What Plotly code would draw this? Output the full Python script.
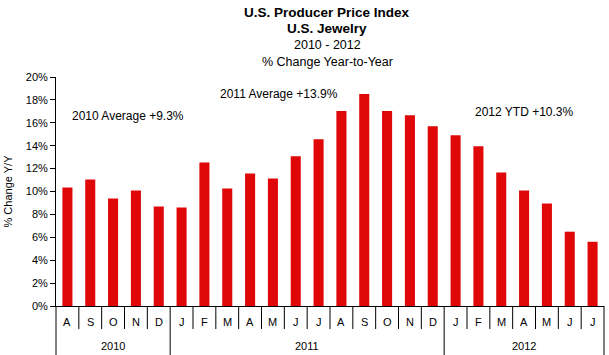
import plotly.graph_objects as go

months = ["A", "S", "O", "N", "D",
          "J", "F", "M", "A", "M", "J", "J", "A", "S", "O", "N", "D",
          "J", "F", "M", "A", "M", "J", "J"]
years = ["2010"] * 5 + ["2011"] * 12 + ["2012"] * 7
values = [10.35, 11.05, 9.39, 10.09, 8.68,
          8.60, 12.54, 10.26, 11.58, 11.14, 13.07, 14.56, 17.02, 18.51, 17.02, 16.67, 15.70,
          14.91, 13.95, 11.67, 10.09, 8.95, 6.49, 5.61]
avg_labels = ["2010 Average +9.3%", "2011 Average +13.9%", "2012 YTD +10.3%"]
avg_pos = [(70, 116), (218, 94), (473, 112)]  # label pixel anchors (left, middle)

W, H = 609, 355
L, R, T, B = 56, 5, 77, 49
PW, PH = W - L - R, H - T - B
N = len(values)
FONT = "Liberation Sans, Arial, sans-serif"

fig = go.Figure()
fig.add_trace(go.Bar(x=list(range(N)), y=values, width=0.44,
                     marker=dict(color="#DF0707", line=dict(width=0)),
                     hoverinfo="y"))

shapes = []
annotations = []
# month separators
for i in range(N + 1):
    xp = i / N
    yearline = i == 0 or i == N or years[i] != years[i - 1]
    shapes.append(dict(type="line", xref="paper", yref="paper",
                       ysizemode="pixel", yanchor=0,
                       x0=xp, x1=xp, y0=0, y1=-(B if yearline else 23),
                       line=dict(color="black", width=1)))
# month labels
for i, m in enumerate(months):
    annotations.append(dict(x=(i + 0.5) / N, y=0, xref="paper", yref="paper",
                            text=m, showarrow=False, yshift=-16,
                            xanchor="center", yanchor="middle",
                            font=dict(family=FONT, size=11, color="black")))
# year labels
start = 0
for i in range(1, N + 1):
    if i == N or years[i] != years[start]:
        annotations.append(dict(x=(start + i) / 2 / N, y=0, xref="paper", yref="paper",
                                text=years[start], showarrow=False, yshift=-40,
                                xanchor="center", yanchor="middle",
                                font=dict(family=FONT, size=11, color="black")))
        start = i
# average labels
for txt, (px, py) in zip(avg_labels, avg_pos):
    annotations.append(dict(x=(px - L) / PW, y=(H - B - py) / PH, xref="paper", yref="paper",
                            text=txt, showarrow=False, xanchor="left", yanchor="middle",
                            font=dict(family=FONT, size=12, color="black")))
# title
title_lines = ["<b>U.S. Producer Price Index</b>", "<b>U.S. Jewelry</b>", "2010 - 2012",
               "% Change Year-to-Year"]
title_sizes = [13.5, 13.5, 12.5, 12.5]
title_cx = 327
for k, (t, s) in enumerate(zip(title_lines, title_sizes)):
    annotations.append(dict(x=(title_cx - L) / PW, y=1, xref="paper", yref="paper",
                            text=t, showarrow=False, xanchor="center", yanchor="middle",
                            yshift=T - 12 - 16.5 * k,
                            font=dict(family=FONT, size=s, color="black")))

fig.update_layout(
    width=W, height=H,
    margin=dict(l=L, r=R, t=T, b=B, pad=0, autoexpand=False),
    paper_bgcolor="white", plot_bgcolor="white",
    showlegend=False,
    font=dict(family=FONT, size=11, color="black"),
    shapes=shapes, annotations=annotations,
    xaxis=dict(range=[-0.5, N - 0.5], showticklabels=False, ticks="",
               showgrid=False, zeroline=False, showline=True, linecolor="black",
               linewidth=1, fixedrange=True, automargin=False),
    yaxis=dict(range=[0, 20], dtick=2, ticksuffix="%", ticks="outside", ticklen=5,
               tickcolor="black", showgrid=False, zeroline=False, showline=True,
               linecolor="black", linewidth=1, automargin=False,
               title=dict(text="% Change Y/Y", standoff=10, font=dict(size=11)),
               tickfont=dict(size=11), fixedrange=True),
)
fig.write_html("out.html", config={"displayModeBar": False},
               post_script="document.body.style.margin='0';")
